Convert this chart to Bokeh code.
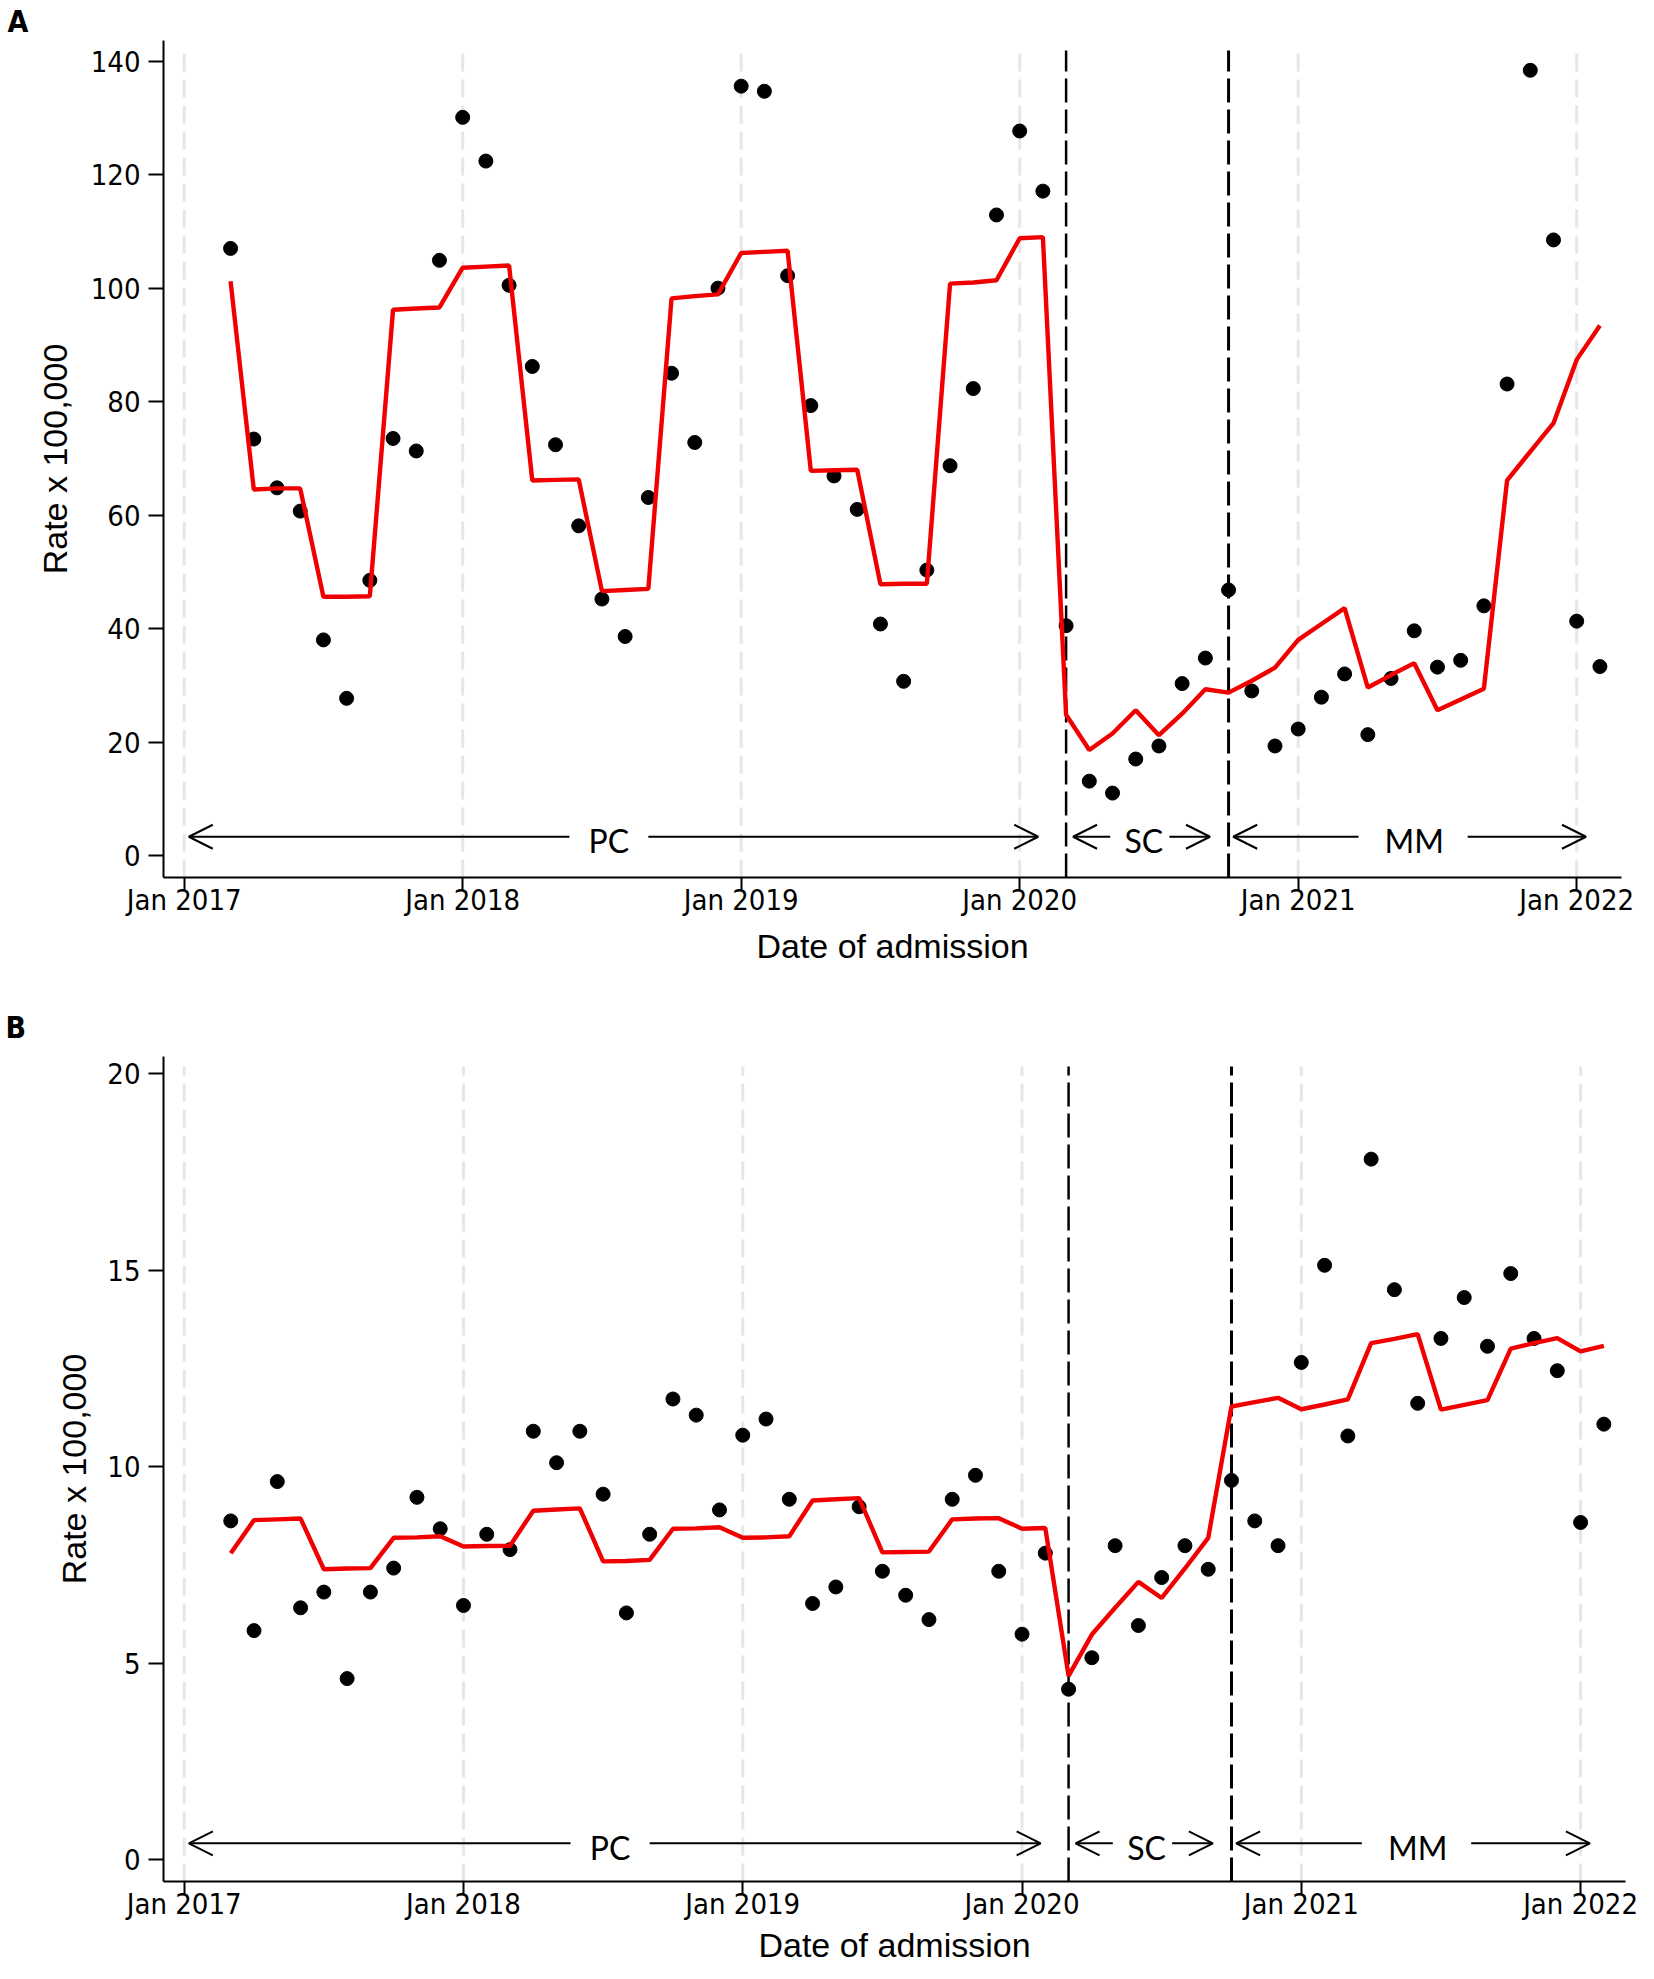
import pandas as pd
from bokeh.plotting import figure
from bokeh.layouts import column
from bokeh.models import FixedTicker, Range1d, Arrow, OpenHead, Title
from bokeh.core.properties import value
from bokeh.embed import file_html
from bokeh.resources import INLINE

# ---------------- data ----------------
start_month = "2017-03"
end_month = "2022-02"
months = pd.period_range(start_month, end_month, freq="M")

year_tick_labels = ["Jan 2017", "Jan 2018", "Jan 2019", "Jan 2020", "Jan 2021", "Jan 2022"]
interruptions = ["2020-03", "2020-10"]          # start of SC, start of MM
period_labels = ["PC", "SC", "MM"]

# Panel A: observed monthly rate and fitted model
a_observed = [107.0, 73.4, 64.8, 60.7, 38.0, 27.7, 48.5, 73.5, 71.3, 104.9,
              130.1, 122.4, 100.5, 86.2, 72.4, 58.1, 45.2, 38.6, 63.1, 85.0, 72.8, 100.0,
              135.6, 134.7, 102.2, 79.3, 66.9, 61.0, 40.8, 30.7, 50.3, 68.7, 82.3, 112.9,
              127.7, 117.1, 40.5, 13.1, 11.0, 17.0, 19.3, 30.3, 34.8, 46.8, 29.0, 19.3,
              22.3, 27.9, 32.0, 21.3, 31.2, 39.6, 33.2, 34.4, 44.0, 83.1, 138.4, 108.5,
              41.3, 33.3]
a_fitted = [101.2, 64.5, 64.7, 64.7, 45.6, 45.6, 45.7, 96.2, 96.4, 96.6,
            103.6, 103.8, 104.0, 66.1, 66.2, 66.3, 46.6, 46.8, 47.0, 98.2, 98.6, 98.9,
            106.2, 106.4, 106.6, 67.8, 67.9, 68.0, 47.8, 47.9, 47.9, 100.8, 101.0, 101.4,
            108.8, 109.0, 24.8, 18.6, 21.5, 25.6, 21.2, 25.0, 29.3, 28.7, 30.8, 33.1,
            38.0, 40.8, 43.6, 29.6, 31.8, 33.9, 25.6, 27.5, 29.4, 66.1, 71.2, 76.2,
            87.4, 93.4]
a_yticks = [0, 20, 40, 60, 80, 100, 120, 140]

# Panel B
b_observed = [8.62, 5.83, 9.62, 6.41, 6.81, 4.61, 6.81, 7.42, 9.22, 8.42,
              6.47, 8.28, 7.89, 10.90, 10.10, 10.90, 9.30, 6.28, 8.28, 11.72, 11.31, 8.90,
              10.80, 11.21, 9.17, 6.52, 6.94, 8.98, 7.34, 6.73, 6.11, 9.17, 9.78, 7.34,
              5.74, 7.80, 4.34, 5.14, 7.99, 5.96, 7.18, 7.99, 7.39, 9.65, 8.62, 7.99,
              12.65, 15.12, 10.78, 17.82, 14.50, 11.61, 13.26, 14.30, 13.06, 14.91, 13.26, 12.44,
              8.58, 11.08]
b_fitted = [7.80, 8.64, 8.66, 8.68, 7.39, 7.41, 7.42, 8.19, 8.20, 8.23,
            7.97, 7.98, 7.99, 8.88, 8.91, 8.94, 7.59, 7.60, 7.63, 8.42, 8.43, 8.46,
            8.19, 8.20, 8.23, 9.14, 9.17, 9.20, 7.82, 7.83, 7.84, 8.66, 8.68, 8.69,
            8.42, 8.44, 4.68, 5.73, 6.41, 7.07, 6.66, 7.41, 8.19, 11.53, 11.64, 11.75,
            11.46, 11.58, 11.71, 13.14, 13.25, 13.37, 11.45, 11.57, 11.69, 13.00, 13.14, 13.27,
            12.93, 13.07]
b_yticks = [0, 5, 10, 15, 20]

# ---------------- helpers ----------------
def month_index(p):
    return (p.year - 2017) * 12 + (p.month - 1)

x = [month_index(m) for m in months]
year_ticks = [12 * i for i in range(len(year_tick_labels))]
int_x = [month_index(pd.Period(s, freq="M")) for s in interruptions]

NARROW = "'DejaVu Sans Condensed', 'Liberation Sans Narrow', sans-serif"
SANS = "'Liberation Sans', Arial, sans-serif"

# arrow layout (months from Jan 2017): (left tip, left end, text, right start, right tip)
arrow_layout = [(0.2, 16.6, 18.3, 20.0, 36.8),
                (38.3, 39.9, 41.35, 42.45, 44.2),
                (45.2, 50.6, 53.0, 55.3, 60.4)]


def make_panel(letter, obs, fit, yticks, yr, frame_w, frame_h, borders,
               arrow_y, title_offset, title_standoff, ylab_standoff, xlab_standoff):
    left, right, top, bottom = borders
    p = figure(frame_width=frame_w, frame_height=frame_h,
               x_range=Range1d(-0.89, 61.93), y_range=Range1d(*yr),
               output_backend="svg", toolbar_location=None,
               min_border_left=left, min_border_right=right,
               min_border_top=top, min_border_bottom=bottom,
               background_fill_color="white", border_fill_color="white")
    p.outline_line_color = None
    p.grid.visible = False

    t = Title(text=letter, align="left", offset=title_offset,
              text_font=NARROW, text_font_size="30px", text_font_style="bold",
              text_color="black", standoff=title_standoff)
    p.add_layout(t, "above")

    ylo, yhi = yr
    ytop = yhi - (yhi - ylo) * 0.012
    # light dashed year grid
    p.segment(x0=year_ticks, x1=year_ticks, y0=[ylo] * len(year_ticks),
              y1=[ytop] * len(year_ticks),
              line_color="#e6e6e6", line_width=3, line_dash="18 8")
    # interruption lines
    p.segment(x0=[int_x[0]], x1=[int_x[0]], y0=[ylo], y1=[ytop],
              line_color="black", line_width=2.5, line_dash="24 7")
    p.segment(x0=[int_x[1]], x1=[int_x[1]], y0=[ylo], y1=[ytop],
              line_color="black", line_width=3, line_dash="24 7")

    p.scatter(x, obs, size=14, color="black")
    p.line(x, fit, line_color="#f00000", line_width=4.4)

    for (lt, le, tx, rs, rt), lab in zip(arrow_layout, period_labels):
        p.add_layout(Arrow(end=OpenHead(size=24, line_width=2, line_color="black"),
                           x_start=le, y_start=arrow_y, x_end=lt, y_end=arrow_y,
                           line_width=2, line_color="black"))
        p.add_layout(Arrow(end=OpenHead(size=24, line_width=2, line_color="black"),
                           x_start=rs, y_start=arrow_y, x_end=rt, y_end=arrow_y,
                           line_width=2, line_color="black"))
        p.text(x=[tx], y=[arrow_y], text=[lab], text_font=value("Lato"),
               text_font_size="32px", text_align="center", text_baseline="middle",
               y_offset=4, text_color="black")

    # axes
    p.xaxis.ticker = FixedTicker(ticks=year_ticks)
    p.xaxis.major_label_overrides = {t_: l_ for t_, l_ in zip(year_ticks, year_tick_labels)}
    p.yaxis.ticker = FixedTicker(ticks=yticks)
    for ax in (p.xaxis, p.yaxis):
        ax.axis_line_color = "black"
        ax.axis_line_width = 2
        ax.major_tick_line_color = "black"
        ax.major_tick_line_width = 2
        ax.major_tick_in = 0
        ax.minor_tick_line_color = None
        ax.major_label_text_font = NARROW
        ax.major_label_text_font_size = "29px"
        ax.major_label_text_color = "black"
        ax.axis_label_text_font = SANS
        ax.axis_label_text_font_size = "34px"
        ax.axis_label_text_font_style = "normal"
        ax.axis_label_text_color = "black"
    p.xaxis.major_tick_out = 13
    p.xaxis.major_label_standoff = -8
    p.xaxis.axis_label = "Date of admission"
    p.xaxis.axis_label_standoff = xlab_standoff
    p.yaxis.major_tick_out = 15
    p.yaxis.major_label_standoff = 8
    p.yaxis.axis_label = "Rate x 100,000"
    p.yaxis.axis_label_standoff = ylab_standoff
    return p


pa = make_panel("A", a_observed, a_fitted, a_yticks, (-3.88, 143.65),
                1458, 837, (161, 19, 39, 100), 3.3, -156, 3, 14, 7)
pb = make_panel("B", b_observed, b_fitted, b_yticks, (-0.55, 20.43),
                1462, 825, (163, 13, 79, 82), 0.42, -158, 24, 11, 2)

layout = column(pa, pb, spacing=0)
open("out.html", "w").write(file_html(layout, INLINE))
